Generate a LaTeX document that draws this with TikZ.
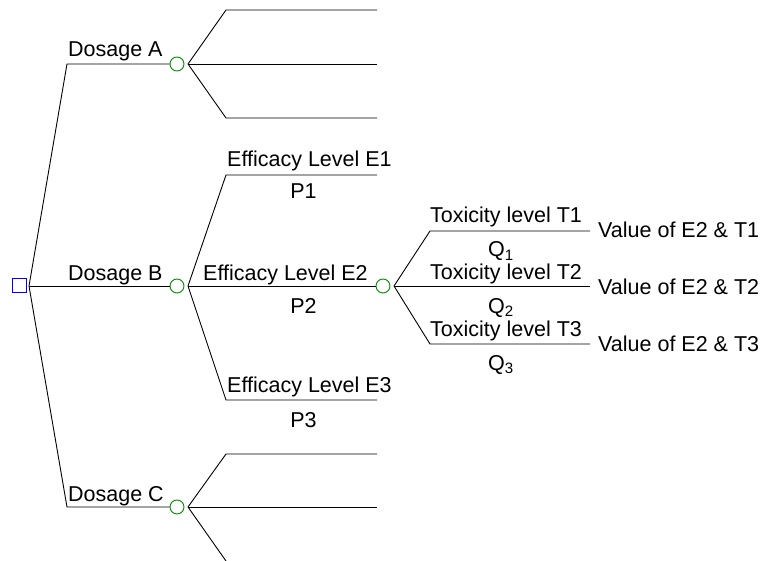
\documentclass[tikz,border=0pt]{standalone}
\usepackage{fontspec}
\setmainfont{Liberation Sans}
\begin{document}
\begin{tikzpicture}[x=1pt,y=-1pt,
  edge/.style={draw=black, line width=0.9pt},
  decision/.style={draw=blue, rectangle, minimum size=14pt, inner sep=0pt, line width=0.9pt},
  chance/.style={draw=green!55!black, circle, minimum size=14pt, inner sep=0pt, line width=0.9pt},
  lbl/.style={inner sep=0pt, anchor=base west, font=\fontsize{21.5}{25}\selectfont},
  clbl/.style={inner sep=0pt, anchor=base, font=\fontsize{21.5}{25}\selectfont}]
\useasboundingbox (0,0) rectangle (763,561);
% decision and chance nodes
\node[decision] (sq) at (19,285) {};
\node[chance] (cA) at (177,64) {};
\node[chance] (cB) at (177,286) {};
\node[chance] (cC) at (177,507) {};
\node[chance] (cE) at (383,286) {};
% junction coordinates
\coordinate (r) at (29,286);
\coordinate (a1) at (67,64);
\coordinate (c1) at (67,507);
\coordinate (jA) at (188,64);
\coordinate (jB) at (188,286);
\coordinate (jC) at (188,507);
\coordinate (jE) at (394,286);
\coordinate (A1) at (226,10);  \coordinate (A1e) at (377,10);
\coordinate (A2e) at (377,64);
\coordinate (A3) at (226,118); \coordinate (A3e) at (377,118);
\coordinate (B1) at (226,175); \coordinate (B1e) at (377,175);
\coordinate (B3) at (226,400); \coordinate (B3e) at (377,400);
\coordinate (C1) at (226,454); \coordinate (C1e) at (377,454);
\coordinate (C2e) at (377,507);
\coordinate (C3) at (226,561);
\coordinate (T1) at (430,231); \coordinate (T1e) at (590,231);
\coordinate (T2e) at (590,286);
\coordinate (T3) at (430,344); \coordinate (T3e) at (590,344);
% connectors
\draw[edge] (r) -- (a1) -- (cA.west);
\draw[edge] (r) -- (cB.west);
\draw[edge] (r) -- (c1) -- (cC.west);
\draw[edge] (jA) -- (A1) -- (A1e);
\draw[edge] (jA) -- (A2e);
\draw[edge] (jA) -- (A3) -- (A3e);
\draw[edge] (jB) -- (B1) -- (B1e);
\draw[edge] (jB) -- (cE.west);
\draw[edge] (jB) -- (B3) -- (B3e);
\draw[edge] (jC) -- (C1) -- (C1e);
\draw[edge] (jC) -- (C2e);
\draw[edge] (jC) -- (C3);
\draw[edge] (jE) -- (T1) -- (T1e);
\draw[edge] (jE) -- (T2e);
\draw[edge] (jE) -- (T3) -- (T3e);
% labels
\node[lbl] (lA) at (68,57) {Dosage A};
\node[lbl] (lB) at (68,281) {Dosage B};
\node[lbl] (lC) at (68,501) {Dosage C};
\node[lbl] (lE1) at (227,167) {Efficacy Level E1};
\node[clbl] (lP1) at (303.5,199) {P1};
\node[lbl] (lE2) at (203,281) {Efficacy Level E2};
\node[clbl] (lP2) at (303.5,313) {P2};
\node[lbl] (lE3) at (227,392) {Efficacy Level E3};
\node[clbl] (lP3) at (303.5,427) {P3};
\node[lbl] (lT1) at (430,223) {Toxicity level T1};
\node[lbl] (lQ1) at (488,257) {Q\textsubscript{1}};
\node[lbl] (lT2) at (430,280) {Toxicity level T2};
\node[lbl] (lQ2) at (488,313) {Q\textsubscript{2}};
\node[lbl] (lT3) at (430,336) {Toxicity level T3};
\node[lbl] (lQ3) at (488,370) {Q\textsubscript{3}};
\node[lbl] (lV1) at (598,238) {Value of E2 \& T1};
\node[lbl] (lV2) at (598,295) {Value of E2 \& T2};
\node[lbl] (lV3) at (598,352) {Value of E2 \& T3};
\end{tikzpicture}
\end{document}
